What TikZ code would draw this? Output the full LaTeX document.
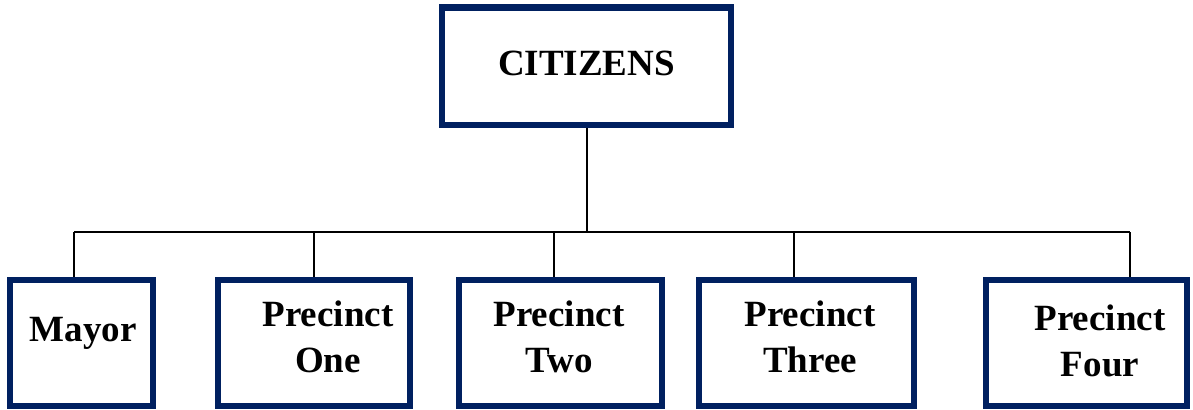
\documentclass[tikz,border=0pt]{standalone}
\usepackage{fontspec}
\setmainfont{Liberation Serif}
\definecolor{navy}{HTML}{002060}
\begin{document}
\begin{tikzpicture}[x=0.75pt,y=-0.75pt,
  box/.style={draw=navy,line width=4.6pt,fill=white,inner sep=0pt},
  conn/.style={draw=black,line width=1.5pt},
  lbl/.style={anchor=base,inner sep=0pt,font=\fontsize{27.75}{34.5}\selectfont\bfseries}]
\useasboundingbox (0,0) rectangle (1193,410);
\node[box,minimum width=289*0.75pt,minimum height=117.5*0.75pt] (top) at (586.5,66.25) {};
\node[box,minimum width=143*0.75pt,minimum height=126*0.75pt] (mayor) at (81.5,343) {};
\node[box,minimum width=192*0.75pt,minimum height=126*0.75pt] (one) at (314,343) {};
\node[box,minimum width=203*0.75pt,minimum height=126*0.75pt] (two) at (560.5,343) {};
\node[box,minimum width=215*0.75pt,minimum height=126*0.75pt] (three) at (806.5,343) {};
\node[box,minimum width=201*0.75pt,minimum height=126*0.75pt] (four) at (1086.5,343) {};
\node[lbl] (tcit) at (586.5,76) {CITIZENS};
\node[lbl] (tmayor) at (83,341.7) {Mayor};
\node[lbl] (tone) at (328,326) {\begin{tabular}[t]{@{}c@{}}Precinct\\One\end{tabular}};
\node[lbl] (ttwo) at (559,326) {\begin{tabular}[t]{@{}c@{}}Precinct\\Two\end{tabular}};
\node[lbl] (tthree) at (810,326) {\begin{tabular}[t]{@{}c@{}}Precinct\\Three\end{tabular}};
\node[lbl] (tfour) at (1100,330) {\begin{tabular}[t]{@{}c@{}}Precinct\\Four\end{tabular}};
\coordinate (bus) at (586.5,232);
\coordinate (jm) at (74,232);
\coordinate (j1) at (313.5,232);
\coordinate (j2) at (554,232);
\coordinate (j3) at (794,232);
\coordinate (j4) at (1130,232);
\draw[conn] (top.south) -- (bus);
\draw[conn] (jm) -- (j4);
\draw[conn] (jm) -- (jm |- mayor.north);
\draw[conn] (j1) -- (j1 |- one.north);
\draw[conn] (j2) -- (j2 |- two.north);
\draw[conn] (j3) -- (j3 |- three.north);
\draw[conn] (j4) -- (j4 |- four.north);
\end{tikzpicture}
\end{document}
